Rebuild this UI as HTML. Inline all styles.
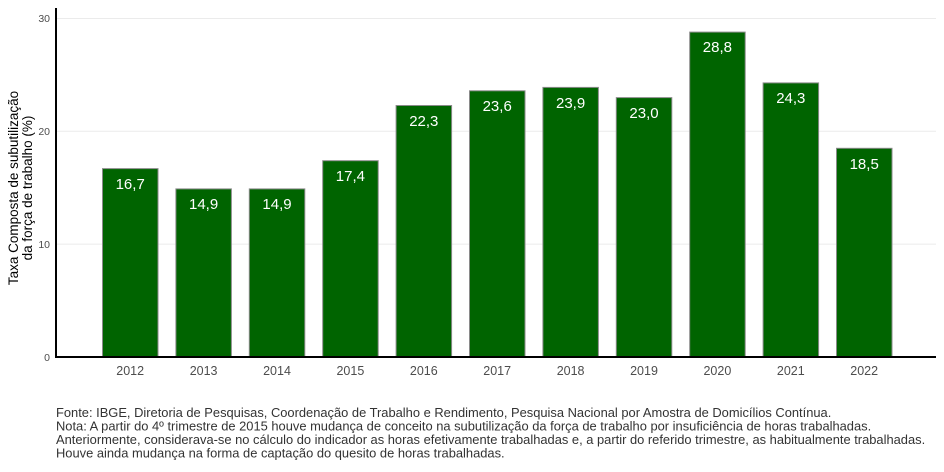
<!DOCTYPE html><html><head><meta charset="utf-8"><style>body{margin:0;background:#fff}svg{font-family:"Liberation Sans",sans-serif;display:block}</style></head><body>
<svg width="944" height="472" viewBox="0 0 944 472">
<g stroke="#ebebeb" stroke-width="1">
<line x1="57" x2="936" y1="18.5" y2="18.5"/><line x1="57" x2="936" y1="131.3" y2="131.3"/><line x1="57" x2="936" y1="244.1" y2="244.1"/>
</g>
<g fill="#006400" stroke="#8a8a8a" stroke-width="1">
<rect x="102.5" y="168.6" width="55.5" height="188.4"/>
<rect x="175.9" y="188.9" width="55.5" height="168.1"/>
<rect x="249.3" y="188.9" width="55.5" height="168.1"/>
<rect x="322.7" y="160.7" width="55.5" height="196.3"/>
<rect x="396.1" y="105.5" width="55.5" height="251.5"/>
<rect x="469.5" y="90.8" width="55.5" height="266.2"/>
<rect x="542.9" y="87.4" width="55.5" height="269.6"/>
<rect x="616.3" y="97.6" width="55.5" height="259.4"/>
<rect x="689.7" y="32.1" width="55.5" height="324.9"/>
<rect x="763.1" y="82.9" width="55.5" height="274.1"/>
<rect x="836.5" y="148.3" width="55.5" height="208.7"/>
</g>
<g fill="#fff" font-size="15" text-anchor="middle">
<text x="130.2" y="189">16,7</text><text x="203.6" y="209">14,9</text><text x="277" y="209">14,9</text><text x="350.4" y="181">17,4</text><text x="423.8" y="126">22,3</text><text x="497.2" y="111">23,6</text><text x="570.6" y="108">23,9</text><text x="644" y="118">23,0</text><text x="717.4" y="52">28,8</text><text x="790.8" y="103">24,3</text><text x="864.2" y="169">18,5</text>
</g>
<g stroke="#000" stroke-width="2"><line x1="56" y1="8" x2="56" y2="357"/><line x1="55" y1="357" x2="936" y2="357"/></g>
<g fill="#4d4d4d" font-size="10.5" text-anchor="end">
<text x="50" y="22">30</text><text x="50" y="135">20</text><text x="50" y="248">10</text><text x="50" y="361">0</text>
</g>
<g fill="#4d4d4d" font-size="12.5" text-anchor="middle">
<text x="130.2" y="375">2012</text><text x="203.6" y="375">2013</text><text x="277" y="375">2014</text><text x="350.4" y="375">2015</text><text x="423.8" y="375">2016</text><text x="497.2" y="375">2017</text><text x="570.6" y="375">2018</text><text x="644" y="375">2019</text><text x="717.4" y="375">2020</text><text x="790.8" y="375">2021</text><text x="864.2" y="375">2022</text>
</g>
<g font-size="13.5" fill="#000" text-anchor="middle">
<text transform="translate(18,188) rotate(-90)">Taxa Composta de subutilização</text>
<text transform="translate(32,188) rotate(-90)">da força de trabalho (%)</text>
</g>
<g font-size="12.9" fill="#333">
<text x="56" y="417">Fonte: IBGE, Diretoria de Pesquisas, Coordenação de Trabalho e Rendimento, Pesquisa Nacional por Amostra de Domicílios Contínua.</text>
<text x="56" y="430.5">Nota: A partir do 4º trimestre de 2015 houve mudança de conceito na subutilização da força de trabalho por insuficiência de horas trabalhadas.</text>
<text x="56" y="444">Anteriormente, considerava-se no cálculo do indicador as horas efetivamente trabalhadas e, a partir do referido trimestre, as habitualmente trabalhadas.</text>
<text x="56" y="457.5">Houve ainda mudança na forma de captação do quesito de horas trabalhadas.</text>
</g>
</svg></body></html>
